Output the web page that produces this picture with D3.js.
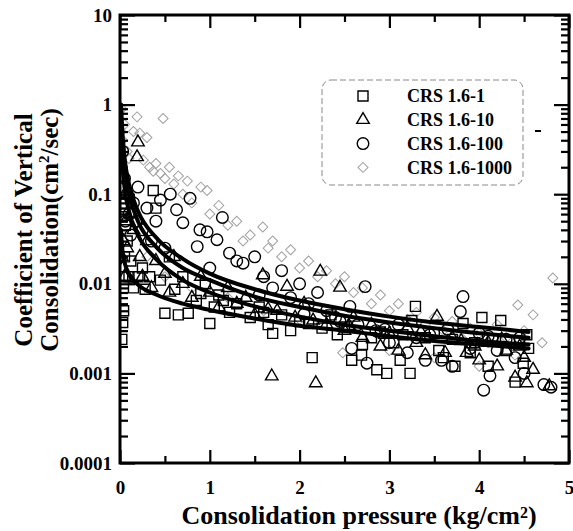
<!DOCTYPE html>
<html>
<head>
<meta charset="utf-8">
<script src="https://cdn.jsdelivr.net/npm/d3@7"></script>
<style>
html,body{margin:0;padding:0;background:#fff;}
svg{display:block;}
text{font-family:"Liberation Serif","Times New Roman",serif;font-weight:bold;fill:#000;}
</style>
</head>
<body>
<svg id="chart" width="573" height="531"></svg>
<script>
// ---------------- data ----------------
const seriesNames = ["CRS 1.6-1", "CRS 1.6-10", "CRS 1.6-100", "CRS 1.6-1000"];
const xTickValues = [0, 1, 2, 3, 4, 5];
const xTickLabels = ["0", "1", "2", "3", "4", "5"];
const yTickValues = [0.0001, 0.001, 0.01, 0.1, 1, 10];
const yTickLabels = ["0.0001", "0.001", "0.01", "0.1", "1", "10"];

// CRS 1.6-1 (squares)
const squaresData = [
[0.02,0.0024],[0.03,0.0037],[0.04,0.005],[0.03,0.012],[0.05,0.02],[0.02,0.056],[0.06,0.045],[0.08,0.03],
[0.1,0.012],[0.12,0.018],[0.15,0.009],[0.2,0.012],[0.28,0.0087],[0.33,0.012],[0.37,0.11],[0.4,0.07],
[0.45,0.011],[0.5,0.0047],[0.55,0.02],[0.61,0.0087],[0.65,0.0045],[0.7,0.012],[0.76,0.0047],[0.85,0.0065],
[0.95,0.01],[1.0,0.0036],[1.05,0.0055],[1.1,0.0075],[1.22,0.0048],[1.3,0.006],[1.45,0.0042],[1.55,0.0055],
[1.65,0.0035],[1.7,0.0028],[1.8,0.0045],[1.9,0.003],[2.0,0.0038],[2.14,0.0015],[2.25,0.0032],[2.35,0.0045],
[2.42,0.0027],[2.58,0.0014],[2.69,0.0016],[2.7,0.0021],[2.8,0.0025],[2.86,0.0011],[2.97,0.001],[3.05,0.0022],
[3.12,0.0014],[3.23,0.001],[3.25,0.0039],[3.29,0.0056],[3.4,0.0025],[3.55,0.0018],[3.6,0.0015],[3.73,0.0012],
[3.82,0.0036],[3.9,0.0017],[3.95,0.0022],[4.03,0.0042],[4.1,0.0012],[4.24,0.0039],[4.3,0.0018],[4.4,0.0008],
[4.49,0.0013],[4.53,0.0027],[4.55,0.0019],
[1.15,0.0065],[1.6,0.0048],[2.1,0.0036],[2.5,0.0033],[2.9,0.0029],[3.15,0.0027],[3.5,0.0028],[3.7,0.0024],
[4.15,0.0024],[4.45,0.0022],[0.25,0.015],[0.9,0.0078]
];
// CRS 1.6-10 (triangles)
const trianglesData = [
[0.02,0.02],[0.03,0.015],[0.04,0.03],[0.05,0.012],[0.06,0.05],[0.08,0.025],[0.1,0.1],[0.12,0.06],
[0.19,0.26],[0.2,0.38],[0.15,0.04],[0.22,0.02],[0.25,0.012],[0.3,0.03],[0.35,0.009],[0.4,0.018],
[0.5,0.013],[0.55,0.008],[0.6,0.02],[0.7,0.01],[0.8,0.007],[0.9,0.012],[1.0,0.008],[1.1,0.0055],
[1.2,0.009],[1.3,0.006],[1.4,0.007],[1.5,0.0045],[1.59,0.0125],[1.69,0.00093],[1.75,0.005],[1.86,0.0093],
[1.95,0.0042],[2.05,0.006],[2.18,0.00078],[2.23,0.0137],[2.3,0.0035],[2.45,0.0091],[2.5,0.003],[2.6,0.0042],
[2.7,0.0025],[2.8,0.0035],[2.9,0.002],[3.0,0.0028],[3.1,0.0018],[3.2,0.0032],[3.3,0.0022],[3.4,0.0016],
[3.53,0.0043],[3.62,0.0017],[3.7,0.0025],[3.86,0.0017],[3.95,0.002],[4.0,0.0014],[4.1,0.0022],[4.2,0.0012],
[4.3,0.0018],[4.4,0.0009],[4.5,0.0015],[4.53,0.00078],[4.6,0.0011],[4.78,0.00072],
[1.65,0.0052],[2.15,0.0039],[2.55,0.0034],[2.95,0.0027],[3.35,0.0029],[3.8,0.0023],[4.25,0.0024],[4.45,0.002]
];
// CRS 1.6-100 (circles)
const circlesData = [
[0.01,0.2],[0.02,0.12],[0.03,0.3],[0.04,0.08],[0.05,0.15],[0.06,0.05],[0.08,0.1],[0.1,0.06],
[0.12,0.035],[0.15,0.08],[0.18,0.05],[0.2,0.12],[0.25,0.04],[0.3,0.07],[0.35,0.03],[0.4,0.05],
[0.45,0.086],[0.5,0.025],[0.56,0.1],[0.63,0.067],[0.7,0.048],[0.78,0.09],[0.86,0.026],[0.89,0.04],
[0.97,0.038],[1.0,0.015],[1.08,0.031],[1.14,0.055],[1.22,0.022],[1.3,0.018],[1.37,0.017],[1.5,0.02],
[1.6,0.012],[1.7,0.009],[1.8,0.014],[1.9,0.007],[2.0,0.01],[2.1,0.006],[2.2,0.008],[2.3,0.005],
[2.4,0.0042],[2.56,0.0056],[2.58,0.0019],[2.65,0.0035],[2.73,0.0093],[2.75,0.0013],[2.85,0.003],[3.0,0.0022],
[3.1,0.0035],[3.2,0.0017],[3.3,0.0025],[3.4,0.0014],[3.58,0.0014],[3.7,0.0012],[3.79,0.0049],[3.82,0.0072],
[3.9,0.0019],[4.0,0.0028],[4.05,0.00065],[4.12,0.00094],[4.2,0.0018],[4.3,0.0024],[4.4,0.0015],[4.5,0.001],
[4.72,0.00075],[4.8,0.0007],
[1.55,0.0075],[2.05,0.0046],[2.45,0.0038],[2.95,0.0031],[3.45,0.0027],[3.65,0.0031],[4.1,0.0026],[4.45,0.0025]
];
// CRS 1.6-1000 (diamonds)
const diamondsData = [
[0.01,0.5],[0.02,0.9],[0.03,0.4],[0.05,0.6],[0.08,0.3],[0.1,0.25],[0.15,0.5],[0.19,0.73],
[0.22,0.48],[0.26,0.24],[0.3,0.43],[0.33,0.2],[0.37,0.18],[0.4,0.22],[0.45,0.17],[0.48,0.7],
[0.5,0.15],[0.55,0.2],[0.6,0.13],[0.65,0.16],[0.7,0.1],[0.75,0.14],[0.8,0.08],[0.9,0.12],
[0.97,0.11],[1.0,0.06],[1.1,0.075],[1.2,0.045],[1.3,0.05],[1.37,0.03],[1.45,0.035],[1.59,0.043],
[1.65,0.025],[1.7,0.03],[1.8,0.02],[1.9,0.024],[2.0,0.015],[2.1,0.018],[2.2,0.012],[2.3,0.014],
[2.4,0.01],[2.5,0.012],[2.6,0.008],[2.7,0.009],[2.8,0.006],[2.9,0.0075],[3.0,0.005],[3.1,0.006],
[3.2,0.004],[3.3,0.0048],[3.4,0.0035],[3.5,0.0042],[3.6,0.003],[3.7,0.0038],[3.8,0.0025],[3.9,0.0032],
[4.0,0.0028],[4.1,0.0022],[4.2,0.0035],[4.3,0.0025],[4.43,0.0058],[4.5,0.003],[4.6,0.0045],[4.7,0.0022],
[4.82,0.0116],[0.3,0.02],[0.5,0.012],[0.8,0.009],[1.2,0.007],[1.6,0.005],[2.0,0.004],[2.48,0.0017],
[3.0,0.0018],[3.5,0.0015],[4.0,0.0012],[4.4,0.0016]
];

// fitted curves
const fitSquares = [[0.01,0.04],[0.03,0.022],[0.06,0.016],[0.1,0.013],[0.2,0.0098],[0.4,0.0076],[0.7,0.006],[1,0.0051],[1.5,0.0041],[2,0.0034],[2.5,0.003],[3,0.0026],[3.5,0.0023],[4,0.0021],[4.55,0.0019]];
const fitTriangles = [[0.01,0.5],[0.02,0.28],[0.05,0.12],[0.1,0.065],[0.2,0.035],[0.4,0.019],[0.7,0.011],[1,0.008],[1.5,0.0056],[2,0.0043],[2.5,0.0035],[3,0.003],[3.5,0.0026],[4,0.0023],[4.55,0.0021]];
const fitCircles = [[0.01,0.9],[0.02,0.45],[0.05,0.19],[0.1,0.1],[0.2,0.05],[0.4,0.026],[0.7,0.015],[1,0.011],[1.5,0.0072],[2,0.0055],[2.5,0.0044],[3,0.0037],[3.5,0.0032],[4,0.0028],[4.55,0.0025]];
const fitDiamonds = [[0.012,1.0],[0.02,0.65],[0.05,0.26],[0.1,0.13],[0.2,0.065],[0.4,0.033],[0.7,0.019],[1,0.013],[1.5,0.0087],[2,0.0065],[2.5,0.0052],[3,0.0043],[3.5,0.0037],[4,0.0033],[4.55,0.0029]];

// ---------------- drawing ----------------
const svg = d3.select("#chart");
const L = 120, R = 569, T = 15, B = 463;
const x = d3.scaleLinear().domain([0, 5]).range([L, R]);
const y = d3.scaleLog().domain([0.0001, 10]).range([B, T]);

svg.append("defs").append("clipPath").attr("id", "clip")
  .append("rect").attr("x", L).attr("y", T).attr("width", R - L).attr("height", B - T);

const plot = svg.append("g").attr("clip-path", "url(#clip)");

const symSquare = d3.symbol().type(d3.symbolSquare).size(100);
const symTri = d3.symbol().type(d3.symbolTriangle).size(68);
const symCircle = d3.symbol().type(d3.symbolCircle).size(105);
const symDiamond = d3.symbol().type(d3.symbolSquare).size(50);

function drawPoints(data, gen, stroke, sw, rotate) {
  plot.append("g").selectAll("path").data(data).join("path")
    .attr("d", gen())
    .attr("transform", d => `translate(${x(d[0])},${y(d[1])})` + (rotate ? " rotate(45)" : ""))
    .attr("fill", "none").attr("stroke", stroke).attr("stroke-width", sw);
}
drawPoints(diamondsData, symDiamond, "#a0a0a0", 1, true);
drawPoints(squaresData, symSquare, "#000", 1.4, false);
drawPoints(trianglesData, symTri, "#000", 1.4, false);
drawPoints(circlesData, symCircle, "#000", 1.4, false);

const line = d3.line().x(d => x(d[0])).y(d => y(d[1])).curve(d3.curveMonotoneX);
[fitSquares, fitTriangles, fitCircles, fitDiamonds].forEach(f => {
  plot.append("path").attr("d", line(f)).attr("fill", "none")
    .attr("stroke", "#000").attr("stroke-width", 4).attr("stroke-linecap", "round");
});

// minor tick positions
const xMinor = [0.5, 1.5, 2.5, 3.5, 4.5];
const yMinor = [];
[0.0001, 0.001, 0.01, 0.1, 1].forEach(d => { for (let k = 2; k <= 9; k++) yMinor.push(d * k); });

function styleAxis(g) {
  g.select(".domain").remove();
  g.selectAll(".tick line").attr("stroke", "#000").attr("stroke-width", 2.2);
  g.selectAll(".tick text").attr("font-size", 19).attr("font-family", "Liberation Serif, Times New Roman, serif").attr("font-weight", "bold");
}

// bottom
svg.append("g").attr("transform", `translate(0,${B})`)
  .call(d3.axisBottom(x).tickValues(xTickValues).tickFormat((d, i) => xTickLabels[i]).tickSize(-13).tickSizeOuter(0).tickPadding(18))
  .call(styleAxis);
svg.append("g").attr("transform", `translate(0,${B})`)
  .call(d3.axisBottom(x).tickValues(xMinor).tickFormat("").tickSize(-7).tickSizeOuter(0)).call(styleAxis);
// top
svg.append("g").attr("transform", `translate(0,${T})`)
  .call(d3.axisTop(x).tickValues(xTickValues).tickFormat("").tickSize(-13).tickSizeOuter(0)).call(styleAxis);
svg.append("g").attr("transform", `translate(0,${T})`)
  .call(d3.axisTop(x).tickValues(xMinor).tickFormat("").tickSize(-7).tickSizeOuter(0)).call(styleAxis);
// left
svg.append("g").attr("transform", `translate(${L},0)`)
  .call(d3.axisLeft(y).tickValues(yTickValues).tickFormat((d, i) => yTickLabels[i]).tickSize(-15).tickSizeOuter(0).tickPadding(8))
  .call(styleAxis);
svg.append("g").attr("transform", `translate(${L},0)`)
  .call(d3.axisLeft(y).tickValues(yMinor).tickFormat("").tickSize(-8).tickSizeOuter(0)).call(styleAxis);
// right
svg.append("g").attr("transform", `translate(${R},0)`)
  .call(d3.axisRight(y).tickValues(yTickValues).tickFormat("").tickSize(-15).tickSizeOuter(0)).call(styleAxis);
svg.append("g").attr("transform", `translate(${R},0)`)
  .call(d3.axisRight(y).tickValues(yMinor).tickFormat("").tickSize(-8).tickSizeOuter(0)).call(styleAxis);

// frame
svg.append("rect").attr("x", L).attr("y", T).attr("width", R - L).attr("height", B - T)
  .attr("fill", "none").attr("stroke", "#000").attr("stroke-width", 3);

// x title
const xt = svg.append("text").attr("x", 359).attr("y", 524).attr("text-anchor", "middle").attr("font-size", 26);
xt.append("tspan").text("Consolidation pressure (kg/cm");
xt.append("tspan").attr("font-size", 16).attr("dy", -6).text("2");
xt.append("tspan").attr("dy", 6).text(")");

// y title
const yt = svg.append("g").attr("transform", "translate(0,230) rotate(-90)");
yt.append("text").attr("x", 0).attr("y", 32).attr("text-anchor", "middle").attr("font-size", 25).text("Coefficient of Vertical");
const yt2 = yt.append("text").attr("x", 0).attr("y", 58).attr("text-anchor", "middle").attr("font-size", 25);
yt2.append("tspan").text("Consolidation(cm");
yt2.append("tspan").attr("font-size", 15).attr("dy", -9).text("2");
yt2.append("tspan").attr("dy", 9).text("/sec)");

// legend
const lg = svg.append("g");
lg.append("rect").attr("x", 322).attr("y", 80).attr("width", 201).attr("height", 105).attr("rx", 9)
  .attr("fill", "#fff").attr("stroke", "#888").attr("stroke-width", 1).attr("stroke-dasharray", "6,3");
const legendSyms = [
  {g: symSquare, stroke: "#000", sw: 1.4, rot: false},
  {g: symTri, stroke: "#000", sw: 1.4, rot: false},
  {g: symCircle, stroke: "#000", sw: 1.4, rot: false},
  {g: symDiamond, stroke: "#a0a0a0", sw: 1, rot: true}
];
seriesNames.forEach((name, i) => {
  const cy = 96 + i * 23.8;
  const s = legendSyms[i];
  lg.append("path").attr("d", s.g()).attr("transform", `translate(363,${cy})` + (s.rot ? " rotate(45)" : ""))
    .attr("fill", "none").attr("stroke", s.stroke).attr("stroke-width", s.sw);
  lg.append("text").attr("x", 407).attr("y", cy).attr("dy", "0.35em").attr("font-size", 18).text(name);
});
// small stray mark near legend in original
svg.append("line").attr("x1", 535).attr("x2", 541).attr("y1", 131).attr("y2", 131).attr("stroke", "#000").attr("stroke-width", 2);
</script>
</body>
</html>
